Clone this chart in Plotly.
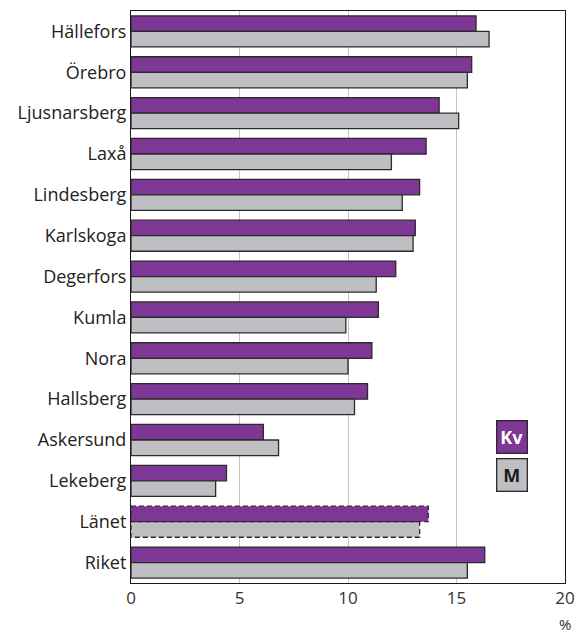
import plotly.graph_objects as go

categories = ["Hällefors", "Örebro", "Ljusnarsberg", "Laxå", "Lindesberg", "Karlskoga",
              "Degerfors", "Kumla", "Nora", "Hallsberg", "Askersund", "Lekeberg",
              "Länet", "Riket"]
kv = [15.9, 15.7, 14.2, 13.6, 13.3, 13.1, 12.2, 11.4, 11.1, 10.9, 6.1, 4.4, 13.7, 16.3]
m = [16.5, 15.5, 15.1, 12.0, 12.5, 13.0, 11.3, 9.9, 10.0, 10.3, 6.8, 3.9, 13.3, 15.5]
x_ticks = [0, 5, 10, 15, 20]
dashed_category = "Länet"

PURPLE = "#7e3795"
GRAY = "#bebfc3"
EDGE = "#2b2b2b"
FONT = "Open Sans"
BARGAP = 0.24

line_w = [0 if c == dashed_category else 1.3 for c in categories]

fig = go.Figure()
fig.add_trace(go.Bar(y=categories, x=kv, orientation="h", name="Kv",
                     marker=dict(color=PURPLE, line=dict(color=EDGE, width=line_w))))
fig.add_trace(go.Bar(y=categories, x=m, orientation="h", name="M",
                     marker=dict(color=GRAY, line=dict(color=EDGE, width=line_w))))

# dashed outlines for Länet
idx = categories.index(dashed_category)
half = (1 - BARGAP) / 2
for val, y0, y1 in [(kv[idx], idx - half, idx), (m[idx], idx, idx + half)]:
    fig.add_shape(type="rect", xref="x", yref="y", x0=0, x1=val, y0=y0, y1=y1,
                  line=dict(color=EDGE, width=1.3, dash="5px,3px"), layer="above")

fig.update_layout(
    template="none",
    width=577, height=635,
    margin=dict(l=131, r=12, t=11, b=52, autoexpand=False),
    paper_bgcolor="white", plot_bgcolor="white",
    barmode="group", bargap=BARGAP, bargroupgap=0,
    showlegend=False,
    font=dict(family=FONT, color="#1a1a1a"),
)
fig.update_xaxes(range=[0, 20], tickvals=x_ticks, ticktext=[str(t) for t in x_ticks],
                 showgrid=True, gridcolor="#c4c4c4", gridwidth=1.2,
                 showline=True, linecolor="#1a1a1a", linewidth=1, mirror=True,
                 ticks="", ticklen=0, tickfont=dict(size=17, color="#333"), zeroline=False,
                 automargin=False)
fig.update_yaxes(categoryorder="array", categoryarray=categories, autorange="reversed",
                 showline=True, linecolor="#1a1a1a", linewidth=1, mirror=True,
                 ticks="", ticklen=0, tickfont=dict(size=18, color="#222"), showgrid=False,
                 zeroline=False, automargin=False)

fig.add_annotation(text="<b>Kv</b>", xref="paper", yref="paper", x=0.877, y=0.256,
                   xanchor="center", yanchor="middle", showarrow=False,
                   font=dict(size=18, color="white", family=FONT),
                   bgcolor=PURPLE, bordercolor=EDGE, borderwidth=1.3,
                   width=27, height=29)
fig.add_annotation(text="<b>M</b>", xref="paper", yref="paper", x=0.877, y=0.188,
                   xanchor="center", yanchor="middle", showarrow=False,
                   font=dict(size=18, color="#1a1a1a", family=FONT),
                   bgcolor=GRAY, bordercolor=EDGE, borderwidth=1.3,
                   width=27, height=29)
fig.add_annotation(text="%", xref="paper", yref="paper", x=1.0, y=0, yshift=-41,
                   xanchor="center", yanchor="middle", showarrow=False,
                   font=dict(size=15, color="#333", family=FONT))

fig.write_html("out.html", config={"displayModeBar": False},
               post_script="document.body.style.margin='0';document.body.style.overflow='hidden';")
